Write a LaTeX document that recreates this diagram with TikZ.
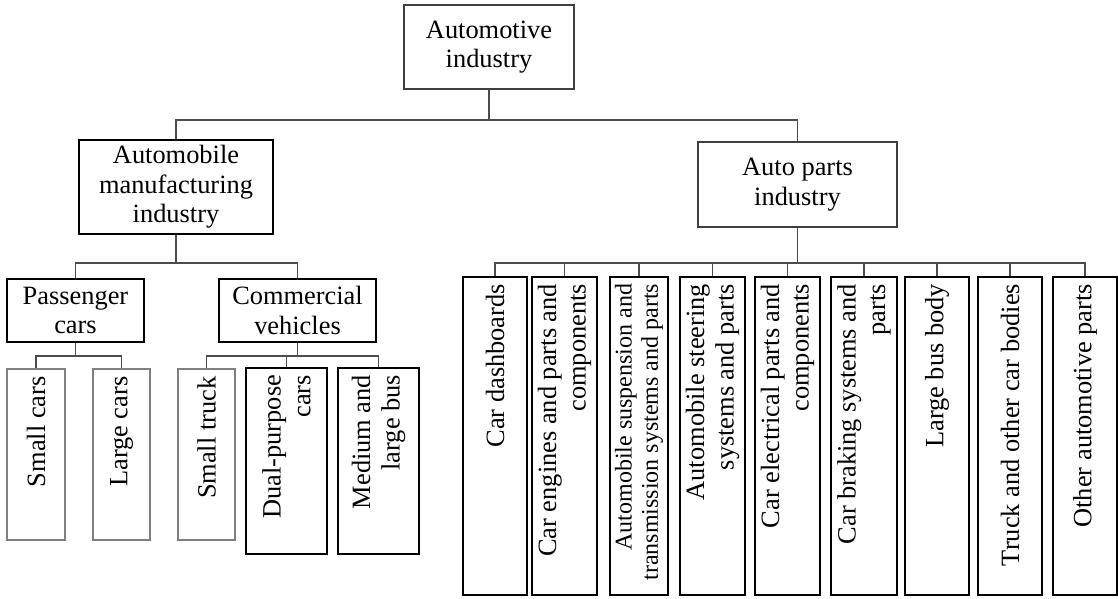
\documentclass[tikz,border=0pt]{standalone}
\usepackage{fontspec}
\setmainfont{Liberation Serif}
\tikzset{
	box/.style 2 args={draw, align=center, line width=1pt, inner sep=1pt, minimum width=#1*0.5pt, minimum height=#2*0.5pt},
	vbox/.style 2 args={draw, rotate=90, align=flush right, line width=1pt, inner xsep=3.5pt, inner ysep=1pt, minimum width=#2*0.5pt, minimum height=#1*0.5pt},
	partbox/.style={vbox={#1}{318}, text width=152pt},
	link/.style={draw=black!70, line width=0.8pt},
}
\begin{document}
\begin{tikzpicture}[x=0.5pt, y=-0.5pt, font=\fontsize{13.2}{14.8}\selectfont]
	\useasboundingbox (0,0) rectangle (1118,599);
	% top levels
	\node[box={170}{84}, draw=black!75] (root) at (489,47) {Automotive\\industry};
	\node[box={194}{94}] (manuf) at (176,187) {Automobile\\manufacturing\\industry};
	\node[box={199}{85}, draw=black!75] (parts) at (797.5,184.5) {Auto parts\\industry};
	\node[box={137}{63}] (passenger) at (75.5,310.5) {Passenger\\cars};
	\node[box={157}{63}] (commercial) at (297.5,310.5) {Commercial\\vehicles};
	% vehicles
	\node[vbox={58}{171}, draw=black!50, text width=78pt] (small) at (36,454.5) {Small cars};
	\node[vbox={57}{171}, draw=black!50, text width=78pt] (large) at (121.5,454.5) {Large cars};
	\node[vbox={57}{171}, draw=black!50, text width=78pt] (truck) at (206.5,454.5) {Small truck};
	\node[vbox={81}{186}, text width=86pt] (dual) at (286.5,461) {Dual-purpose\\cars};
	\node[vbox={81}{186}, text width=86pt] (bus) at (378.5,461) {Medium and\\large bus};
	% parts
	\node[partbox=64] (p1) at (495,436) {Car dashboards};
	\node[partbox=65] (p2) at (564.5,436) {Car engines and parts and\\components};
	\node[partbox=58, font=\fontsize{12}{13.2}\selectfont] (p3) at (639,436) {Automobile suspension and\\transmission systems and parts};
	\node[partbox=65] (p4) at (712.5,436) {Automobile steering\\systems and parts};
	\node[partbox=65] (p5) at (787.5,436) {Car electrical parts and\\components};
	\node[partbox=66] (p6) at (864,436) {Car braking systems and\\parts};
	\node[partbox=64] (p7) at (937,436) {Large bus body};
	\node[partbox=64] (p8) at (1010,436) {Truck and other car bodies};
	\node[partbox=64] (p9) at (1085,436) {Other automotive parts};

	\draw[link] (root.south) -- ++(0,30) coordinate (rootbar);
	\draw[link] (rootbar) -| (manuf.north);
	\draw[link] (rootbar) -| (parts.north);
	\draw[link] (manuf.south) -- ++(0,28) coordinate (manufbar);
	\draw[link] (manufbar) -| (passenger.north);
	\draw[link] (manufbar) -| (commercial.north);
	\draw[link] (passenger.south) -- ++(0,13) coordinate (passbar);
	\foreach \n in {small, large}
		\draw[link] (passbar) -| (\n.east);
	\draw[link] (commercial.south) -- ++(0,13) coordinate (commbar);
	\foreach \n in {truck, dual, bus}
		\draw[link] (commbar) -| (\n.east);
	\draw[link] (parts.south) -- ++(0,35) coordinate (partsbar);
	\foreach \n in {1,...,9}
		\draw[link] (partsbar) -| (p\n.east);
\end{tikzpicture}
\end{document}
